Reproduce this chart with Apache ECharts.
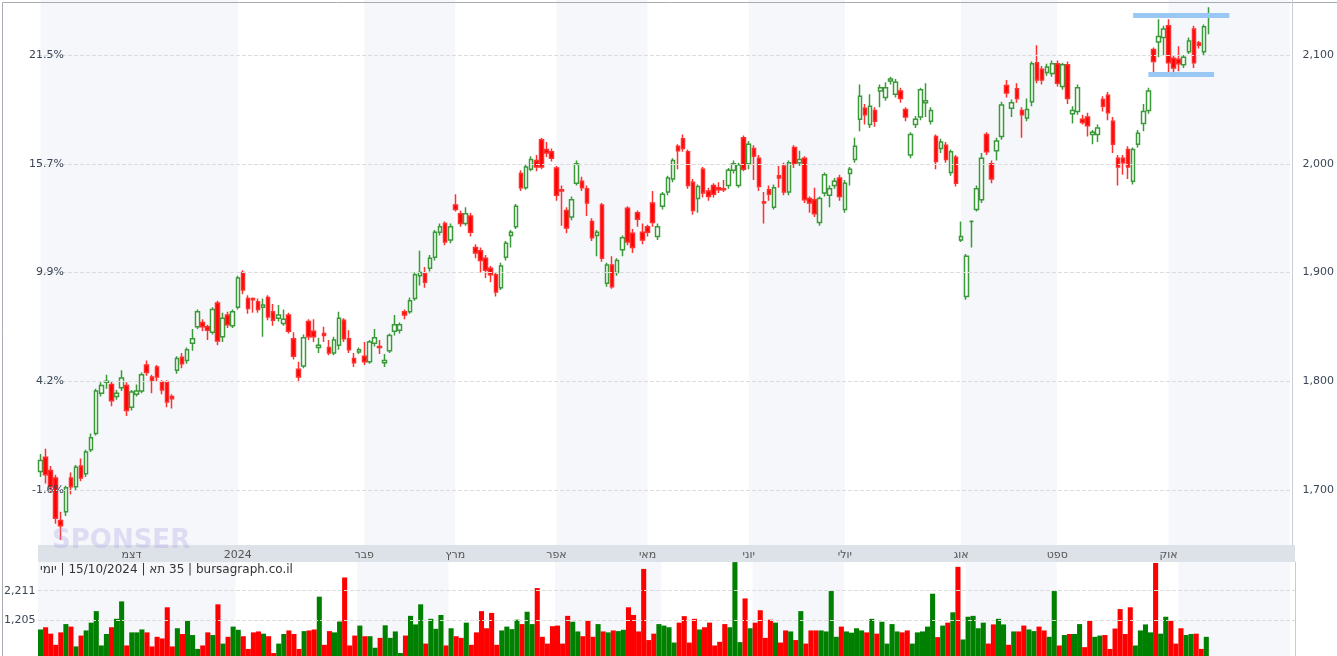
<!DOCTYPE html>
<html>
<head>
<meta charset="utf-8">
<script src="https://cdn.jsdelivr.net/npm/echarts@6/dist/echarts.min.js"></script>
<style>
  html, body { margin: 0; padding: 0; background: #fff; }
  #chart { width: 1337px; height: 656px; }
</style>
</head>
<body>
<div id="chart"></div>
<script>
// נרות יומיים: [פתיחה, סגירה, נמוך, גבוה]
var candles = [
  [1717,1727,1712,1733],[1730,1714,1706,1738],[1718,1703,1698,1722],[1711,1674,1669,1714],[1672,1667,1654,1680],
  [1680,1702,1676,1704],[1711,1703,1696,1716],[1703,1721,1699,1723],[1722,1711,1708,1729],[1715,1735,1712,1737],
  [1737,1748,1735,1752],[1752,1791,1750,1793],[1789,1796,1786,1799],[1799,1800,1793,1806],[1797,1782,1777,1800],
  [1786,1789,1783,1792],[1794,1803,1791,1810],[1796,1773,1768,1799],[1776,1790,1773,1792],[1788,1791,1786,1797],
  [1791,1806,1789,1808],[1815,1808,1805,1819],[1804,1801,1789,1806],[1813,1804,1800,1815],[1799,1792,1788,1801],
  [1799,1781,1776,1801],[1786,1784,1775,1788],[1810,1821,1807,1823],[1822,1816,1812,1826],[1819,1829,1816,1831],
  [1835,1839,1828,1848],[1850,1864,1848,1866],[1854,1850,1846,1857],[1850,1847,1838,1852],[1845,1866,1843,1868],
  [1872,1837,1833,1874],[1841,1858,1836,1863],[1861,1852,1849,1864],[1851,1864,1849,1866],[1868,1895,1866,1897],
  [1900,1884,1880,1902],[1876,1867,1862,1879],
  [1876,1875,1863,1877],[1873,1866,1863,1876],[1868,1870,1841,1876],[1877,1859,1856,1879],[1864,1856,1851,1871],
  [1858,1861,1855,1870],[1853,1857,1851,1866],[1861,1846,1844,1863],[1839,1823,1820,1845],[1811,1804,1799,1818],
  [1814,1840,1812,1843],[1855,1841,1838,1857],[1846,1841,1836,1857],[1831,1833,1826,1840],[1844,1842,1836,1850],
  [1831,1826,1824,1838],[1826,1838,1824,1841],[1833,1858,1829,1864],[1856,1839,1836,1858],[1839,1829,1826,1847],
  [1821,1817,1813,1826],[1827,1829,1825,1831],[1823,1818,1815,1836],[1818,1836,1816,1838],[1835,1840,1832,1848],
  [1832,1831,1825,1838],[1817,1819,1813,1825],[1828,1842,1826,1844],[1846,1852,1842,1861],[1847,1852,1844,1854],
  [1864,1861,1857,1866],[1864,1874,1862,1877],[1876,1898,1874,1900],[1897,1900,1888,1920],[1899,1891,1886,1905],
  [1904,1913,1901,1916],[1914,1937,1911,1939],[1937,1942,1934,1945],[1945,1928,1925,1947],
  [1930,1942,1927,1945],[1962,1958,1956,1972],[1954,1945,1942,1957],[1945,1954,1943,1960],[1952,1937,1933,1955],
  [1923,1918,1913,1926],[1920,1911,1900,1923],[1913,1902,1895,1916],[1904,1898,1891,1906],[1898,1882,1878,1900],
  [1886,1906,1884,1909],[1914,1927,1911,1929],[1934,1937,1923,1939],[1942,1961,1940,1963],[1991,1978,1975,1994],
  [1978,1997,1976,1999],[1995,2004,1993,2007],[2003,1997,1993,2008],[2022,1997,1995,2024],[2013,2010,2006,2020],
  [2011,2005,2002,2014],[1996,1971,1966,1998],[1976,1975,1943,1980],[1957,1941,1936,1960],[1951,1967,1948,1970],
  [1982,2000,1980,2003],[1984,1978,1975,1988],[1977,1964,1952,1980],[1947,1932,1929,1950],[1934,1937,1915,1939],
  [1962,1913,1910,1964],[1890,1907,1887,1909],[1907,1887,1885,1915],[1900,1911,1897,1913],[1921,1932,1915,1934],
  [1959,1928,1925,1961],[1936,1923,1918,1940],[1955,1949,1942,1957],[1937,1930,1926,1945],[1942,1937,1933,1944],
  [1964,1946,1942,1975],
  [1933,1942,1930,1945],[1961,1972,1958,1974],[1974,1987,1971,1989],[1986,2003,1983,2005],[2016,2012,1995,2018],
  [2023,2014,2011,2027],[2011,1980,1977,2013],[1983,1957,1953,1986],[1968,1979,1955,1981],[1995,1973,1969,1997],
  [1975,1970,1966,1978],[1980,1972,1969,1982],[1978,1976,1973,1983],[1977,1976,1974,1985],[1980,1994,1977,1996],
  [1994,2000,1991,2003],[1980,1999,1978,2001],[2024,1995,1993,2026],[2000,2018,1995,2021],[2014,2007,1985,2017],
  [2005,1979,1975,2008],[1965,1964,1945,1974],[1976,1972,1966,1980],[1960,1978,1958,1981],[1989,1987,1978,1998],
  [1998,1974,1971,2001],[1974,2001,1971,2003],[2015,2000,1996,2017],[2001,2004,1998,2012],[2005,1967,1964,2007],
  [1968,1964,1955,1970],[1967,1954,1951,1978],[1946,1968,1943,1970],[1973,1990,1970,1992],[1971,1977,1960,1980],
  [1980,1984,1977,1987],[1987,1970,1966,1990],[1958,1982,1955,1985],[1991,1995,1980,1997],[2004,2016,2001,2024],
  [2041,2062,2030,2073],[2051,2045,2036,2055],[2036,2053,2033,2064],
  [2049,2039,2034,2052],[2067,2070,2052,2073],[2061,2070,2058,2075],[2076,2078,2073,2080],[2064,2075,2061,2078],
  [2067,2060,2056,2070],[2050,2043,2039,2052],[2008,2027,2005,2029],[2036,2041,2033,2044],[2043,2068,2040,2070],
  [2056,2058,2043,2074],[2039,2049,2036,2052],[2025,2002,1995,2027],[2014,2020,2010,2023],[2017,2004,2001,2020],
  [1992,2011,1989,2013],[2006,1982,1979,2008],
  [1930,1933,1928,1947],[1878,1915,1875,1917],[1947,1947,1923,1948],[1958,1977,1956,1980],[1967,2005,1964,2010],
  [2027,2011,2008,2029],[2000,1986,1982,2003],[2012,2021,2003,2024],[2025,2054,2022,2057],[2072,2065,2061,2077],
  [2051,2056,2043,2059],[2069,2060,2056,2074],[2049,2045,2024,2052],[2042,2050,2039,2060],[2057,2092,2053,2094],
  [2093,2077,2074,2109],[2087,2077,2073,2090],[2084,2089,2081,2092],[2083,2092,2080,2095],[2092,2074,2071,2095],
  [2071,2091,2068,2093],[2091,2060,2055,2094],[2046,2049,2037,2053],[2048,2070,2045,2073],[2041,2038,2036,2045],
  [2043,2035,2025,2047],
  [2027,2029,2018,2031],[2027,2033,2020,2036],[2059,2053,2048,2062],[2063,2047,2040,2066],[2039,2018,2010,2043],
  [2005,1997,1980,2008],[2005,2001,1990,2008],[2013,1997,1986,2016],[1984,2013,1981,2015],[2018,2028,2015,2031],
  [2037,2048,2030,2055],[2049,2067,2046,2070],[2105,2094,2081,2107],[2112,2117,2098,2133],[2116,2124,2100,2127],
  [2127,2093,2081,2133],[2097,2088,2083,2100],[2096,2092,2085,2108],[2091,2098,2088,2100],[2103,2113,2101,2116],
  [2124,2093,2088,2127],[2111,2109,2106,2113],[2103,2126,2100,2128],[2135,2137,2119,2144]
];

// מחזור (אלפים)
var volumes = [
  899,974,757,379,800,1081,996,325,692,866,1130,1520,357,746,974,1260,1850,357,800,800,
  899,800,325,650,595,1650,325,940,746,1190,710,240,357,800,710,1750,420,650,996,888,
  670,240,800,832,757,670,100,420,746,866,746,240,843,866,899,2010,379,843,800,1168,
  2660,357,692,1030,670,670,280,614,1040,614,832,100,692,1360,
  1070,1750,420,1260,920,1390,357,940,670,614,1130,379,800,1520,940,1460,379,866,996,910,
  1230,1081,1500,1081,2300,650,420,1010,1030,420,1360,1160,832,670,1190,650,1081,832,800,866,
  843,888,1650,1390,832,2950,540,757,1081,1030,974,455,1130,1350,455,1260,899,974,1130,357,
  480,1081,974,3180,470,1950,940,1130,1550,614,1230,1130,455,866,832,540,1520,420,866,866,
  866,832,2200,650,996,832,790,940,866,800,1260,757,1160,420,1081,832,800,866,420,800,
  832,996,2110,640,1030,1130,1480,3020,560,1330,1360,940,1130,420,1070,1260,1070,379,832,832,
  1030,899,843,996,866,650,2200,357,710,746,746,1081,300,1190,650,692,710,240,930,1590,
  746,1650,357,866,1070,800,3150,757,1330,1190,420,940,710,746,757,240,650
];

var monthLabels = ['דצמ', '2024', 'פבר', 'מרץ', 'אפר', 'מאי', 'יוני', 'יולי', 'אוג', 'ספט', 'אוק'];
var monthStarts = [18, 39, 64, 82, 102, 120, 140, 159, 182, 201, 223];
var shadedMonths = [[0, 39], [64, 82], [102, 120], [140, 159], [182, 201], [223, 247]];

var priceTicks = [1700, 1800, 1900, 2000, 2100];
var pctLabels = ['-1.6%', '4.2%', '9.9%', '15.7%', '21.5%'];

var volTicks = [2211, 1205];

// קווי תמיכה/התנגדות: [מאינדקס, עד אינדקס, מחיר]
var levels = [[216, 235, 2137], [219, 232, 2082]];

var padCount = 16;

var totalCats = candles.length + padCount;
var cats = [];
for (var i = 0; i < totalCats; i++) cats.push(String(i));

var labelAt = {};
monthStarts.forEach(function (s, k) { labelAt[s] = monthLabels[k]; });

var bands = shadedMonths.map(function (b) {
    return [{ xAxis: b[0] }, { xAxis: b[1] }];
});

var volData = volumes.map(function (v, k) {
    var c = candles[k];
    return {
        value: v,
        itemStyle: { color: c[1] < c[0] ? '#ff0000' : '#008000' }
    };
});

var gridLine = { color: '#dcdcdc', type: 'dashed', width: 1 };
var labelFont = { color: '#3b4656', fontSize: 11, fontFamily: 'DejaVu Sans' };

var chart = echarts.init(document.getElementById('chart'));

var option = {
    animation: false,
    backgroundColor: '#fff',
    grid: [
        { left: 38, right: 42, top: 0, height: 545 },
        { left: 38, right: 42, top: 562, height: 98 }
    ],
    xAxis: [{
        type: 'category', gridIndex: 0, data: cats, boundaryGap: true, z: 70,
        axisLine: { show: false }, axisTick: { show: false },
        axisLabel: {
            interval: function (idx) { return labelAt[idx] !== undefined; },
            formatter: function (v) { return labelAt[+v] || ''; },
            color: '#555', fontSize: 11, margin: 5, fontFamily: 'DejaVu Sans'
        },
        splitLine: { show: false }
    }, {
        type: 'category', gridIndex: 1, data: cats, boundaryGap: true,
        axisLine: { show: false }, axisTick: { show: false }, axisLabel: { show: false }
    }],
    yAxis: [{
        type: 'value', gridIndex: 0, position: 'right', min: 1649.4, max: 2150.6, z: 70,
        axisLine: { show: true, lineStyle: { color: '#c8ccd2' } }, axisTick: { show: false },
        axisLabel: Object.assign({
            customValues: priceTicks, margin: 10,
            formatter: function (v) { return v.toLocaleString('en-US'); }
        }, labelFont),
        splitLine: { show: false }
    }, {
        type: 'value', gridIndex: 0, position: 'left', min: 1649.4, max: 2150.6, z: 70,
        axisLine: { show: false }, axisTick: { show: false },
        axisLabel: Object.assign({
            customValues: priceTicks, margin: -26, align: 'right',
            formatter: function (v) { return pctLabels[priceTicks.indexOf(v)]; }
        }, labelFont),
        splitLine: { show: false }
    }, {
        type: 'value', gridIndex: 1, min: 0, max: 3184, position: 'right', z: 70,
        axisLine: { show: true, lineStyle: { color: '#c8ccd2' } }, axisTick: { show: false },
        axisLabel: { show: false }, splitLine: { show: false }
    }, {
        type: 'value', gridIndex: 1, min: 0, max: 3184, position: 'left', z: 70,
        axisLine: { show: false }, axisTick: { show: false },
        axisLabel: Object.assign({
            customValues: volTicks, margin: 34, align: 'left',
            formatter: function (v) { return v.toLocaleString('en-US'); }
        }, labelFont),
        splitLine: { show: false }
    }],
    series: [{
        type: 'candlestick', xAxisIndex: 0, yAxisIndex: 0,
        data: candles, barWidth: '80%',
        itemStyle: {
            color: '#ffffff', color0: '#ff0000',
            borderColor: '#3a9a3a', borderColor0: '#ff3030', borderWidth: 1.5
        },
        markArea: { silent: true, itemStyle: { color: '#f5f7fa' }, data: bands },
        markLine: {
            silent: true, symbol: 'none', label: { show: false },
            lineStyle: gridLine,
            data: priceTicks.map(function (t) { return { yAxis: t }; })
        }
    }, {
        type: 'line', xAxisIndex: 0, yAxisIndex: 0, data: [], z: 5,
        markLine: {
            silent: true, symbol: 'none', label: { show: false },
            lineStyle: { color: '#99c8f5', width: 5, type: 'solid' },
            data: levels.map(function (l) {
                return [{ coord: [String(l[0]), l[2]] }, { coord: [String(l[1]), l[2]] }];
            })
        }
    }, {
        type: 'bar', xAxisIndex: 1, yAxisIndex: 2, data: volData,
        barCategoryGap: '0%',
        markArea: { silent: true, itemStyle: { color: '#f5f7fa' }, data: bands },
        markLine: {
            silent: true, symbol: 'none', label: { show: false },
            lineStyle: gridLine,
            data: volTicks.map(function (t) { return { yAxis: t }; })
        }
    }],
    graphic: [
        { type: 'rect', left: 38, top: 545, z: 50, shape: { width: 1257, height: 17 }, style: { fill: '#dde1e8' }, silent: true },
        { type: 'text', left: 52, top: 528, z: 60, style: { text: 'SPONSER', fill: 'rgba(170,160,230,0.3)', font: 'bold 26px "DejaVu Sans"' } },
        { type: 'text', left: 40, top: 564, z: 60, style: { text: '\u200Eיומי\u200E | 15/10/2024 | \u200Eתא\u200E 35 | bursagraph.co.il', fill: '#333', font: '12px "DejaVu Sans"' } },
        { type: 'rect', left: 0, top: 0, z: 60, shape: { width: 1336, height: 655 }, style: { fill: 'none', stroke: '#a8acb2', lineWidth: 1 } }
    ]
};

chart.setOption(option);
</script>
</body>
</html>
